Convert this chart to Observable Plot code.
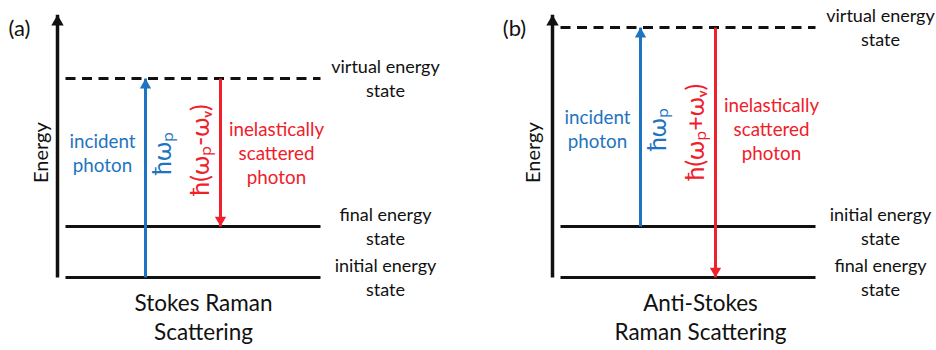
<!DOCTYPE html>
<html>
<head>
<meta charset="utf-8">
<script src="https://cdn.jsdelivr.net/npm/d3@7"></script>
<script src="https://cdn.jsdelivr.net/npm/@observablehq/plot@0.6"></script>
<style>
  html, body { margin: 0; padding: 0; background: #fff; }
  #chart svg { display: block; }
</style>
</head>
<body>
<div id="chart"></div>
<script>
// ---- data ----
const panelLetters = ["(a)", "(b)"];
const panelTitles = ["Stokes Raman\nScattering", "Anti-Stokes\nRaman Scattering"];
const levelLabels = ["initial energy\nstate", "final energy\nstate", "virtual energy\nstate"];
const initialEnergy = [0, 1];     // Stokes, Anti-Stokes
const finalEnergy = [1, 0];
const virtualEnergy = [3.9, 4.9];
const incidentFormula = ["ħωₚ", "ħωₚ"];
const scatteredFormula = ["ħ(ωₚ-ωᵥ)", "ħ(ωₚ+ωᵥ)"];
const incidentText = "incident\nphoton";
const scatteredText = "inelastically\nscattered\nphoton";
const axisTitle = "Energy";
const annotationEnergy = [2.43, 2.9];
const axisTop = 5.15;

// ---- layout (diagram units along x) ----
const panelOffset = [0, 495];
const L = {axis: 57, lv0: 65, lv1: 320, blue: 145, red: 220, label: 385,
           incident: 102, incForm: 160, scatForm: 198, scatText: 276,
           energy: 39, letter: 19, title: 203};

const BLUE = "#1e74c0", RED = "#f0202a", INK = "#111";

const levels = [], arrows = [], heads = [], texts = [];
panelLetters.forEach((p, i) => {
  const o = panelOffset[i];
  const E = {initial: initialEnergy[i], final: finalEnergy[i], virtual: virtualEnergy[i]};
  levels.push({x1: o + L.lv0, x2: o + L.lv1, y: E.initial, dashed: false});
  levels.push({x1: o + L.lv0, x2: o + L.lv1, y: E.final, dashed: false});
  levels.push({x1: o + L.lv0, x2: o + L.lv1, y: E.virtual, dashed: true});
  // axis
  arrows.push({x: o + L.axis, y1: Math.min(E.initial, E.final), y2: axisTop, c: INK, w: 3.5});
  heads.push({x: o + L.axis, y: axisTop, c: INK, rot: 0, r: 4.6});
  // incident (up)
  arrows.push({x: o + L.blue, y1: E.initial, y2: E.virtual, c: BLUE, w: 3});
  heads.push({x: o + L.blue, y: E.virtual, c: BLUE, rot: 0, r: 4.2});
  // scattered (down)
  arrows.push({x: o + L.red, y1: E.virtual, y2: E.final, c: RED, w: 3});
  heads.push({x: o + L.red, y: E.final, c: RED, rot: 180, r: 4.2});
  // texts
  const a = annotationEnergy[i];
  texts.push({x: o + L.letter, y: 4.9, t: p, c: INK, s: 22, rot: 0});
  texts.push({x: o + L.energy + (i ? -3 : 0), y: 2.45, t: axisTitle, c: INK, s: 20, rot: -90});
  texts.push({x: o + L.incident, y: a, t: incidentText, c: BLUE, s: 18.8, rot: 0});
  texts.push({x: o + L.incForm, y: a, t: incidentFormula[i], c: BLUE, s: 25, rot: -90});
  texts.push({x: o + L.scatForm, y: a + (i ? -0.05 : 0.07), t: scatteredFormula[i], c: RED, s: 25, rot: -90});
  texts.push({x: o + L.scatText, y: a, t: scatteredText, c: RED, s: 18.8, rot: 0});
  texts.push({x: o + L.label, y: E.initial, t: levelLabels[0], c: INK, s: 18, rot: 0});
  texts.push({x: o + L.label, y: E.final, t: levelLabels[1], c: INK, s: 18, rot: 0});
  texts.push({x: o + L.label, y: E.virtual, t: levelLabels[2], c: INK, s: 18, rot: 0});
  texts.push({x: o + L.title + (i ? 2 : 0), y: -0.78, t: panelTitles[i], c: INK, s: 22.5, rot: 0});
});

const textMarks = texts.map(d => Plot.text([d], {
  x: "x", y: "y", text: "t", fill: d.c, fontSize: d.s, rotate: d.rot,
  lineHeight: d.s >= 22 ? 1.29 : (d.s >= 18.5 ? 1.27 : 1.33), dy: d.rot ? 0 : -1
}));

const chart = Plot.plot({
  width: 936, height: 350,
  marginTop: 0, marginRight: 0, marginBottom: 0, marginLeft: 0,
  x: {domain: [0, 936], axis: null},
  y: {domain: [-1.431, 5.431], axis: null},
  style: {fontFamily: "Lato, 'Open Sans', sans-serif", background: "#fff"},
  marks: [
    Plot.link(levels.filter(d => !d.dashed), {x1: "x1", x2: "x2", y1: "y", y2: "y", stroke: INK, strokeWidth: 3}),
    Plot.link(levels.filter(d => d.dashed), {x1: "x1", x2: "x2", y1: "y", y2: "y", stroke: INK, strokeWidth: 3, strokeDasharray: "10,6.5"}),
    ...arrows.map(d => Plot.link([d], {x1: "x", x2: "x", y1: "y1", y2: "y2", stroke: d.c, strokeWidth: d.w})),
    ...heads.map(d => Plot.dot([d], {x: "x", y: "y", symbol: "triangle", r: d.r, fill: d.c, stroke: "none",
      rotate: d.rot, dy: (d.rot ? -1 : 1) * 2 * 0.777 * d.r})),
    ...textMarks
  ]
});
document.getElementById("chart").appendChild(chart);
</script>
</body>
</html>
